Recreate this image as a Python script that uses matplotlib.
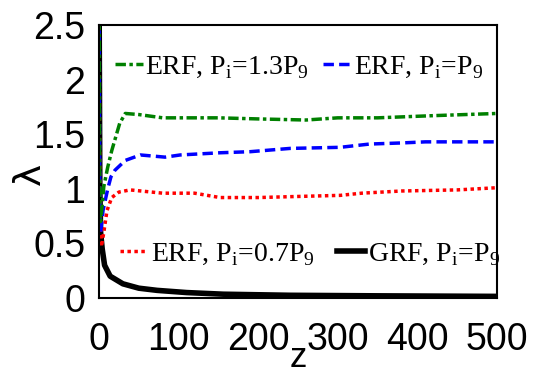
import numpy as np
import matplotlib
matplotlib.use('Agg')
import matplotlib.pyplot as plt

plt.rcParams['mathtext.fontset'] = 'custom'
plt.rcParams['mathtext.rm'] = 'Liberation Serif'

# ERF, Pi = 1.3 P9
z_green = [0, 1, 2, 4, 6, 11, 16, 20, 26, 33, 50, 80, 120, 150, 200, 260, 300, 350, 420, 460, 500]
lam_green = [3.0, 0.9, 0.7, 0.85, 1.02, 1.2, 1.35, 1.45, 1.6, 1.69, 1.68, 1.65, 1.65, 1.65, 1.64, 1.63, 1.65, 1.65, 1.67, 1.68, 1.69]

# ERF, Pi = P9
z_blue = [0, 1, 2, 5, 11, 15, 20, 33, 52, 83, 102, 152, 190, 240, 303, 340, 380, 410, 460, 500]
lam_blue = [3.0, 0.9, 0.6, 0.8, 1.0, 1.11, 1.17, 1.26, 1.31, 1.29, 1.31, 1.33, 1.34, 1.37, 1.38, 1.41, 1.42, 1.43, 1.43, 1.43]

# ERF, Pi = 0.7 P9
z_red = [0, 1, 3, 6, 10, 16, 25, 39, 80, 120, 152, 200, 250, 303, 330, 380, 450, 500]
lam_red = [3.0, 0.9, 0.47, 0.6, 0.8, 0.92, 0.97, 0.99, 0.96, 0.96, 0.92, 0.92, 0.93, 0.94, 0.96, 0.98, 0.99, 1.01]

# GRF, Pi = P9
z_black = [0, 1, 2, 4, 7, 14, 30, 50, 73, 110, 156, 240, 350, 500]
lam_black = [3.0, 1.0, 0.6, 0.45, 0.3, 0.2, 0.13, 0.09, 0.07, 0.05, 0.035, 0.025, 0.02, 0.015]

labels = [r'ERF, P$_\mathregular{i}$=1.3P$_\mathregular{9}$',
          r'ERF, P$_\mathregular{i}$=P$_\mathregular{9}$',
          r'ERF, P$_\mathregular{i}$=0.7P$_\mathregular{9}$',
          r'GRF, P$_\mathregular{i}$=P$_\mathregular{9}$']

fig = plt.figure(figsize=(5.39, 3.75), dpi=100)
ax = fig.add_axes([0.1837, 0.2053, 0.7384, 0.728])

l_black, = ax.plot(z_black, lam_black, color='black', lw=4, ls='-')
l_red, = ax.plot(z_red, lam_red, color='red', lw=2.5, ls=(0, (1, 1)))
l_blue, = ax.plot(z_blue, lam_blue, color='blue', lw=2.5, ls=(0, (3, 1.5)))
l_green, = ax.plot(z_green, lam_green, color='green', lw=2.5, ls=(0, (3, 1, 1, 1)))

ax.set_xlim(0, 500)
ax.set_ylim(0, 2.5)
ax.set_xticks([0, 100, 200, 300, 400, 500])
ax.set_yticks([0, 0.5, 1, 1.5, 2, 2.5])
ax.set_yticklabels(['0', '0.5', '1', '1.5', '2', '2.5'])
ax.tick_params(length=0, labelsize=27, pad=10)
for lab in ax.get_xticklabels() + ax.get_yticklabels():
    lab.set_family('Liberation Sans')
ax.tick_params(axis='x', pad=17)
for s in ax.spines.values():
    s.set_linewidth(1.5)

ax.set_xlabel('z', fontsize=25, family='Liberation Sans', va='bottom')
ax.set_ylabel('λ', fontsize=27, family='DejaVu Sans')
ax.xaxis.set_label_coords(0.5, -0.278)
ax.yaxis.set_label_coords(-0.128, 0.456)

fp = {'family': 'Liberation Serif', 'size': 20}
leg1 = ax.legend([l_green, l_blue], labels[:2], ncol=2, frameon=False, prop=fp,
                 loc='center left', bbox_to_anchor=(0.04, 0.845), handlelength=1.0,
                 handletextpad=0.1, columnspacing=0.5, borderaxespad=0, borderpad=0)
ax.add_artist(leg1)
ax.legend([l_red, l_black], labels[2:], ncol=2, frameon=False, prop=fp,
          loc='center left', bbox_to_anchor=(0.052, 0.16), handlelength=1.0,
          handletextpad=0.12, columnspacing=0.8, borderaxespad=0, borderpad=0)

fig.savefig('out.png', dpi=100)
